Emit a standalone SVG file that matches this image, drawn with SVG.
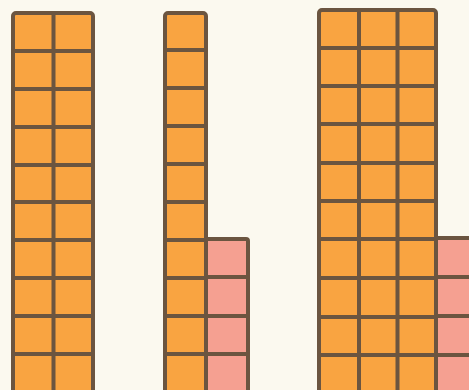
<svg xmlns="http://www.w3.org/2000/svg" width="469" height="390" viewBox="0 0 469 390">
<style>
.o{fill:#f9a441;stroke:#6b5540;stroke-width:4}
.p{fill:#f5a091;stroke:#6b5540;stroke-width:4}
.g{fill:none;stroke:#6b5540;stroke-width:4}
</style>
<rect width="469" height="390" fill="#fbf9ef"/>
<g id="bar1">
<rect class="o" x="13" y="13" width="80" height="400" rx="3"/>
<path class="g" d="M53.5 13V400M13 51H93M13 89H93M13 127H93M13 165H93M13 202H93M13 240H93M13 278H93M13 316H93M13 354H93"/>
</g>
<g id="bar2">
<rect class="p" x="206" y="239" width="42" height="180" rx="2"/>
<path class="g" d="M206 277H248M206 316H248M206 354H248"/>
<rect class="o" x="165" y="13" width="41" height="400" rx="3"/>
<path class="g" d="M165 50H206M165 88H206M165 126H206M165 164H206M165 202H206M165 240H206M165 278H206M165 316H206M165 354H206"/>
</g>
<g id="bar3">
<rect class="p" x="436" y="238" width="50" height="180" rx="2"/>
<path class="g" d="M436 277H486M436 316H486M436 355H486"/>
<rect class="o" x="319" y="10" width="117" height="400" rx="3"/>
<path class="g" d="M359 10V400M397.5 10V400M319 48H436M319 86H436M319 124H436M319 163H436M319 201H436M319 239H436M319 278H436M319 317H436M319 355H436"/>
</g>
</svg>
